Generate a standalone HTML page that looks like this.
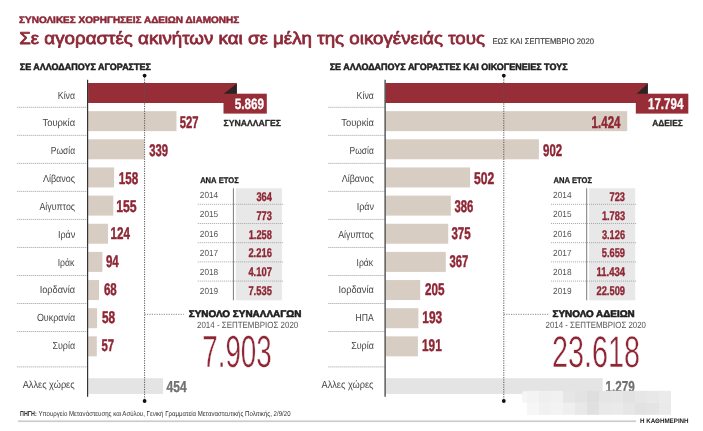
<!DOCTYPE html>
<html><head><meta charset="utf-8"><title>Άδειες διαμονής</title>
<style>html,body{margin:0;padding:0;background:#fff;width:703px;height:431px;overflow:hidden}
svg{display:block;filter:blur(0.5px)} text{font-family:"Liberation Sans",sans-serif;white-space:pre}</style></head>
<body>
<svg width="703" height="431" viewBox="0 0 703 431" font-family="'Liberation Sans', sans-serif" text-rendering="geometricPrecision">
<rect x="88.10" y="83.00" width="148.70" height="20.00" fill="#962d37"/>
<rect x="88.10" y="111.15" width="88.40" height="20.00" fill="#d8cdc3"/>
<rect x="88.10" y="139.30" width="56.30" height="20.00" fill="#d8cdc3"/>
<rect x="88.10" y="167.45" width="26.00" height="20.00" fill="#d8cdc3"/>
<rect x="88.10" y="195.60" width="25.20" height="20.00" fill="#d8cdc3"/>
<rect x="88.10" y="223.75" width="19.90" height="20.00" fill="#d8cdc3"/>
<rect x="88.10" y="251.90" width="14.30" height="20.00" fill="#d8cdc3"/>
<rect x="88.10" y="280.05" width="10.90" height="20.00" fill="#d8cdc3"/>
<rect x="88.10" y="308.20" width="9.00" height="20.00" fill="#d8cdc3"/>
<rect x="88.10" y="336.35" width="8.70" height="20.00" fill="#d8cdc3"/>
<rect x="88.30" y="378.20" width="74.70" height="15.70" fill="#e4e4e4"/>
<rect x="385.60" y="83.00" width="262.20" height="20.00" fill="#962d37"/>
<rect x="385.60" y="111.15" width="241.60" height="20.00" fill="#d8cdc3"/>
<rect x="385.60" y="139.30" width="153.30" height="20.00" fill="#d8cdc3"/>
<rect x="385.60" y="167.45" width="84.50" height="20.00" fill="#d8cdc3"/>
<rect x="385.60" y="195.60" width="65.20" height="20.00" fill="#d8cdc3"/>
<rect x="385.60" y="223.75" width="62.60" height="20.00" fill="#d8cdc3"/>
<rect x="385.60" y="251.90" width="60.20" height="20.00" fill="#d8cdc3"/>
<rect x="385.60" y="280.05" width="34.60" height="20.00" fill="#d8cdc3"/>
<rect x="385.60" y="308.20" width="32.80" height="20.00" fill="#d8cdc3"/>
<rect x="385.60" y="336.35" width="32.30" height="20.00" fill="#d8cdc3"/>
<rect x="385.80" y="378.20" width="216.80" height="15.70" fill="#e4e4e4"/>
<line x1="17.30" y1="107.30" x2="87.30" y2="107.30" stroke="#9a9a9a" stroke-width="1.0" stroke-dasharray="1.00 1.00"/>
<line x1="328.40" y1="107.30" x2="384.80" y2="107.30" stroke="#9a9a9a" stroke-width="1.0" stroke-dasharray="1.00 1.00"/>
<line x1="17.30" y1="135.33" x2="87.30" y2="135.33" stroke="#9a9a9a" stroke-width="1.0" stroke-dasharray="1.00 1.00"/>
<line x1="328.40" y1="135.33" x2="384.80" y2="135.33" stroke="#9a9a9a" stroke-width="1.0" stroke-dasharray="1.00 1.00"/>
<line x1="17.30" y1="163.36" x2="87.30" y2="163.36" stroke="#9a9a9a" stroke-width="1.0" stroke-dasharray="1.00 1.00"/>
<line x1="328.40" y1="163.36" x2="384.80" y2="163.36" stroke="#9a9a9a" stroke-width="1.0" stroke-dasharray="1.00 1.00"/>
<line x1="17.30" y1="191.39" x2="87.30" y2="191.39" stroke="#9a9a9a" stroke-width="1.0" stroke-dasharray="1.00 1.00"/>
<line x1="328.40" y1="191.39" x2="384.80" y2="191.39" stroke="#9a9a9a" stroke-width="1.0" stroke-dasharray="1.00 1.00"/>
<line x1="17.30" y1="219.42" x2="87.30" y2="219.42" stroke="#9a9a9a" stroke-width="1.0" stroke-dasharray="1.00 1.00"/>
<line x1="328.40" y1="219.42" x2="384.80" y2="219.42" stroke="#9a9a9a" stroke-width="1.0" stroke-dasharray="1.00 1.00"/>
<line x1="17.30" y1="247.45" x2="87.30" y2="247.45" stroke="#9a9a9a" stroke-width="1.0" stroke-dasharray="1.00 1.00"/>
<line x1="328.40" y1="247.45" x2="384.80" y2="247.45" stroke="#9a9a9a" stroke-width="1.0" stroke-dasharray="1.00 1.00"/>
<line x1="17.30" y1="275.48" x2="87.30" y2="275.48" stroke="#9a9a9a" stroke-width="1.0" stroke-dasharray="1.00 1.00"/>
<line x1="328.40" y1="275.48" x2="384.80" y2="275.48" stroke="#9a9a9a" stroke-width="1.0" stroke-dasharray="1.00 1.00"/>
<line x1="17.30" y1="303.51" x2="87.30" y2="303.51" stroke="#9a9a9a" stroke-width="1.0" stroke-dasharray="1.00 1.00"/>
<line x1="328.40" y1="303.51" x2="384.80" y2="303.51" stroke="#9a9a9a" stroke-width="1.0" stroke-dasharray="1.00 1.00"/>
<line x1="17.30" y1="331.54" x2="87.30" y2="331.54" stroke="#9a9a9a" stroke-width="1.0" stroke-dasharray="1.00 1.00"/>
<line x1="328.40" y1="331.54" x2="384.80" y2="331.54" stroke="#9a9a9a" stroke-width="1.0" stroke-dasharray="1.00 1.00"/>
<line x1="17.30" y1="366.90" x2="87.30" y2="366.90" stroke="#9a9a9a" stroke-width="1.0" stroke-dasharray="1.00 1.00"/>
<line x1="328.40" y1="366.90" x2="384.80" y2="366.90" stroke="#9a9a9a" stroke-width="1.0" stroke-dasharray="1.00 1.00"/>
<rect x="235.80" y="188.30" width="46.10" height="112.00" fill="#e8e8e8"/>
<line x1="233.40" y1="188.3" x2="233.40" y2="300.3" stroke="#7a7a7a" stroke-width="1"/>
<line x1="197.80" y1="204.30" x2="283.70" y2="204.30" stroke="#a6a6a6" stroke-width="1.0" stroke-dasharray="1.00 1.00"/>
<line x1="197.80" y1="223.50" x2="283.70" y2="223.50" stroke="#a6a6a6" stroke-width="1.0" stroke-dasharray="1.00 1.00"/>
<line x1="197.80" y1="242.70" x2="283.70" y2="242.70" stroke="#a6a6a6" stroke-width="1.0" stroke-dasharray="1.00 1.00"/>
<line x1="197.80" y1="261.90" x2="283.70" y2="261.90" stroke="#a6a6a6" stroke-width="1.0" stroke-dasharray="1.00 1.00"/>
<line x1="197.80" y1="281.10" x2="283.70" y2="281.10" stroke="#a6a6a6" stroke-width="1.0" stroke-dasharray="1.00 1.00"/>
<rect x="589.10" y="188.30" width="46.10" height="112.00" fill="#e8e8e8"/>
<line x1="586.70" y1="188.3" x2="586.70" y2="300.3" stroke="#7a7a7a" stroke-width="1"/>
<line x1="551.10" y1="204.30" x2="637.00" y2="204.30" stroke="#a6a6a6" stroke-width="1.0" stroke-dasharray="1.00 1.00"/>
<line x1="551.10" y1="223.50" x2="637.00" y2="223.50" stroke="#a6a6a6" stroke-width="1.0" stroke-dasharray="1.00 1.00"/>
<line x1="551.10" y1="242.70" x2="637.00" y2="242.70" stroke="#a6a6a6" stroke-width="1.0" stroke-dasharray="1.00 1.00"/>
<line x1="551.10" y1="261.90" x2="637.00" y2="261.90" stroke="#a6a6a6" stroke-width="1.0" stroke-dasharray="1.00 1.00"/>
<line x1="551.10" y1="281.10" x2="637.00" y2="281.10" stroke="#a6a6a6" stroke-width="1.0" stroke-dasharray="1.00 1.00"/>
<rect x="223.50" y="93.70" width="43.30" height="19.90" fill="#962d37"/>
<polygon points="223.80,93.7 236.80,83.4 236.80,93.7" fill="#2b2324"/>
<rect x="635.80" y="93.70" width="52.50" height="19.90" fill="#962d37"/>
<polygon points="636.70,93.7 647.80,83.4 647.80,93.7" fill="#2b2324"/>
<line x1="144.60" y1="77.00" x2="144.60" y2="400.00" stroke="#555555" stroke-width="1.0" stroke-dasharray="1.20 1.20"/>
<line x1="144.60" y1="314.30" x2="183.80" y2="314.30" stroke="#8a8a8a" stroke-width="1.0" stroke-dasharray="1.20 1.20"/>
<circle cx="144.60" cy="75.6" r="1.9" fill="#111"/>
<circle cx="144.60" cy="401.0" r="1.9" fill="#111"/>
<line x1="503.80" y1="77.00" x2="503.80" y2="400.00" stroke="#555555" stroke-width="1.0" stroke-dasharray="1.20 1.20"/>
<line x1="503.80" y1="314.30" x2="549.00" y2="314.30" stroke="#8a8a8a" stroke-width="1.0" stroke-dasharray="1.20 1.20"/>
<circle cx="503.80" cy="75.6" r="1.9" fill="#111"/>
<circle cx="503.80" cy="401.0" r="1.9" fill="#111"/>
<line x1="87.60" y1="79.8" x2="87.60" y2="396.8" stroke="#333333" stroke-width="1.2"/>
<line x1="385.10" y1="79.8" x2="385.10" y2="396.8" stroke="#333333" stroke-width="1.2"/>
<rect x="18" y="420.4" width="618" height="1.7" fill="#cccccc"/>
<text x="19.05" y="22.75" font-size="9.45" font-weight="700" fill="#8c2837" stroke="#8c2837" stroke-width="0.5" stroke-linejoin="round" textLength="220.14" lengthAdjust="spacingAndGlyphs">ΣΥΝΟΛΙΚΕΣ ΧΟΡΗΓΗΣΕΙΣ ΑΔΕΙΩΝ ΔΙΑΜΟΝΗΣ</text>
<text x="19.18" y="44.33" font-size="17.22" font-weight="400" fill="#8c2837" stroke="#8c2837" stroke-width="0.75" stroke-linejoin="round" textLength="465.87" lengthAdjust="spacingAndGlyphs">Σε αγοραστές ακινήτων και σε μέλη της οικογένειάς τους</text>
<text x="492.50" y="44.20" font-size="8.28" font-weight="400" fill="#444444" stroke="#444444" stroke-width="0.2" stroke-linejoin="round" textLength="101.43" lengthAdjust="spacingAndGlyphs">ΕΩΣ ΚΑΙ ΣΕΠΤΕΜΒΡΙΟ 2020</text>
<text x="19.85" y="70.15" font-size="9.30" font-weight="700" fill="#1e1e1e" stroke="#1e1e1e" stroke-width="0.5" stroke-linejoin="round" textLength="131.00" lengthAdjust="spacingAndGlyphs">ΣΕ ΑΛΛΟΔΑΠΟΥΣ ΑΓΟΡΑΣΤΕΣ</text>
<text x="329.65" y="70.05" font-size="9.30" font-weight="700" fill="#1e1e1e" stroke="#1e1e1e" stroke-width="0.5" stroke-linejoin="round" textLength="237.89" lengthAdjust="spacingAndGlyphs">ΣΕ ΑΛΛΟΔΑΠΟΥΣ ΑΓΟΡΑΣΤΕΣ ΚΑΙ ΟΙΚΟΓΕΝΕΙΕΣ ΤΟΥΣ</text>
<text x="57.80" y="98.60" font-size="10.32" font-weight="400" fill="#454545" textLength="17.26" lengthAdjust="spacingAndGlyphs">Κίνα</text>
<text x="42.50" y="126.42" font-size="10.32" font-weight="400" fill="#454545" textLength="32.56" lengthAdjust="spacingAndGlyphs">Τουρκία</text>
<text x="50.80" y="154.24" font-size="10.32" font-weight="400" fill="#454545" textLength="24.26" lengthAdjust="spacingAndGlyphs">Ρωσία</text>
<text x="42.90" y="182.06" font-size="10.32" font-weight="400" fill="#454545" textLength="32.17" lengthAdjust="spacingAndGlyphs">Λίβανος</text>
<text x="39.40" y="209.88" font-size="10.32" font-weight="400" fill="#454545" textLength="35.67" lengthAdjust="spacingAndGlyphs">Αίγυπτος</text>
<text x="57.90" y="237.70" font-size="10.32" font-weight="400" fill="#454545" textLength="17.33" lengthAdjust="spacingAndGlyphs">Ιράν</text>
<text x="57.70" y="265.52" font-size="10.32" font-weight="400" fill="#454545" textLength="16.68" lengthAdjust="spacingAndGlyphs">Ιράκ</text>
<text x="39.70" y="293.34" font-size="10.32" font-weight="400" fill="#454545" textLength="35.36" lengthAdjust="spacingAndGlyphs">Ιορδανία</text>
<text x="36.90" y="321.16" font-size="10.32" font-weight="400" fill="#454545" textLength="38.16" lengthAdjust="spacingAndGlyphs">Ουκρανία</text>
<text x="52.40" y="348.98" font-size="10.32" font-weight="400" fill="#454545" textLength="22.66" lengthAdjust="spacingAndGlyphs">Συρία</text>
<text x="356.60" y="98.60" font-size="10.32" font-weight="400" fill="#454545" textLength="17.26" lengthAdjust="spacingAndGlyphs">Κίνα</text>
<text x="341.30" y="126.42" font-size="10.32" font-weight="400" fill="#454545" textLength="32.56" lengthAdjust="spacingAndGlyphs">Τουρκία</text>
<text x="349.60" y="154.24" font-size="10.32" font-weight="400" fill="#454545" textLength="24.26" lengthAdjust="spacingAndGlyphs">Ρωσία</text>
<text x="341.70" y="182.06" font-size="10.32" font-weight="400" fill="#454545" textLength="32.17" lengthAdjust="spacingAndGlyphs">Λίβανος</text>
<text x="356.70" y="209.88" font-size="10.32" font-weight="400" fill="#454545" textLength="17.33" lengthAdjust="spacingAndGlyphs">Ιράν</text>
<text x="338.20" y="237.70" font-size="10.32" font-weight="400" fill="#454545" textLength="35.67" lengthAdjust="spacingAndGlyphs">Αίγυπτος</text>
<text x="356.50" y="265.52" font-size="10.32" font-weight="400" fill="#454545" textLength="16.68" lengthAdjust="spacingAndGlyphs">Ιράκ</text>
<text x="338.50" y="293.34" font-size="10.32" font-weight="400" fill="#454545" textLength="35.36" lengthAdjust="spacingAndGlyphs">Ιορδανία</text>
<text x="355.60" y="321.16" font-size="10.32" font-weight="400" fill="#454545" textLength="18.19" lengthAdjust="spacingAndGlyphs">ΗΠΑ</text>
<text x="351.20" y="348.98" font-size="10.32" font-weight="400" fill="#454545" textLength="22.66" lengthAdjust="spacingAndGlyphs">Συρία</text>
<text x="22.70" y="388.40" font-size="10.32" font-weight="400" fill="#454545" textLength="51.97" lengthAdjust="spacingAndGlyphs">Αλλες χώρες</text>
<text x="321.50" y="388.40" font-size="10.32" font-weight="400" fill="#454545" textLength="51.97" lengthAdjust="spacingAndGlyphs">Αλλες χώρες</text>
<text x="179.72" y="128.22" font-size="16.93" font-weight="700" fill="#8e2634" stroke="#8e2634" stroke-width="0.45" stroke-linejoin="round" textLength="18.72" lengthAdjust="spacingAndGlyphs">527</text>
<text x="149.22" y="156.00" font-size="16.93" font-weight="700" fill="#8e2634" stroke="#8e2634" stroke-width="0.45" stroke-linejoin="round" textLength="18.82" lengthAdjust="spacingAndGlyphs">339</text>
<text x="118.84" y="183.80" font-size="16.93" font-weight="700" fill="#8e2634" stroke="#8e2634" stroke-width="0.45" stroke-linejoin="round" textLength="19.42" lengthAdjust="spacingAndGlyphs">158</text>
<text x="116.20" y="211.59" font-size="16.93" font-weight="700" fill="#8e2634" stroke="#8e2634" stroke-width="0.45" stroke-linejoin="round" textLength="20.47" lengthAdjust="spacingAndGlyphs">155</text>
<text x="110.54" y="239.38" font-size="16.93" font-weight="700" fill="#8e2634" stroke="#8e2634" stroke-width="0.45" stroke-linejoin="round" textLength="19.43" lengthAdjust="spacingAndGlyphs">124</text>
<text x="105.92" y="267.16" font-size="16.93" font-weight="700" fill="#8e2634" stroke="#8e2634" stroke-width="0.45" stroke-linejoin="round" textLength="12.84" lengthAdjust="spacingAndGlyphs">94</text>
<text x="103.92" y="294.95" font-size="16.93" font-weight="700" fill="#8e2634" stroke="#8e2634" stroke-width="0.45" stroke-linejoin="round" textLength="12.82" lengthAdjust="spacingAndGlyphs">68</text>
<text x="101.92" y="322.74" font-size="16.93" font-weight="700" fill="#8e2634" stroke="#8e2634" stroke-width="0.45" stroke-linejoin="round" textLength="13.23" lengthAdjust="spacingAndGlyphs">58</text>
<text x="101.52" y="350.53" font-size="16.93" font-weight="700" fill="#8e2634" stroke="#8e2634" stroke-width="0.45" stroke-linejoin="round" textLength="12.62" lengthAdjust="spacingAndGlyphs">57</text>
<text x="591.54" y="128.22" font-size="16.93" font-weight="700" fill="#8e2634" stroke="#8e2634" stroke-width="0.45" stroke-linejoin="round" textLength="29.03" lengthAdjust="spacingAndGlyphs">1.424</text>
<text x="543.12" y="156.00" font-size="16.93" font-weight="700" fill="#8e2634" stroke="#8e2634" stroke-width="0.45" stroke-linejoin="round" textLength="19.12" lengthAdjust="spacingAndGlyphs">902</text>
<text x="473.93" y="183.80" font-size="16.93" font-weight="700" fill="#8e2634" stroke="#8e2634" stroke-width="0.45" stroke-linejoin="round" textLength="20.24" lengthAdjust="spacingAndGlyphs">502</text>
<text x="454.43" y="211.59" font-size="16.93" font-weight="700" fill="#8e2634" stroke="#8e2634" stroke-width="0.45" stroke-linejoin="round" textLength="18.92" lengthAdjust="spacingAndGlyphs">386</text>
<text x="451.43" y="239.38" font-size="16.93" font-weight="700" fill="#8e2634" stroke="#8e2634" stroke-width="0.45" stroke-linejoin="round" textLength="19.33" lengthAdjust="spacingAndGlyphs">375</text>
<text x="449.43" y="267.16" font-size="16.93" font-weight="700" fill="#8e2634" stroke="#8e2634" stroke-width="0.45" stroke-linejoin="round" textLength="18.82" lengthAdjust="spacingAndGlyphs">367</text>
<text x="425.03" y="294.95" font-size="16.93" font-weight="700" fill="#8e2634" stroke="#8e2634" stroke-width="0.45" stroke-linejoin="round" textLength="19.53" lengthAdjust="spacingAndGlyphs">205</text>
<text x="422.32" y="322.74" font-size="16.93" font-weight="700" fill="#8e2634" stroke="#8e2634" stroke-width="0.45" stroke-linejoin="round" textLength="19.94" lengthAdjust="spacingAndGlyphs">193</text>
<text x="422.03" y="350.53" font-size="16.93" font-weight="700" fill="#8e2634" stroke="#8e2634" stroke-width="0.45" stroke-linejoin="round" textLength="19.73" lengthAdjust="spacingAndGlyphs">191</text>
<text x="166.55" y="391.85" font-size="15.86" font-weight="700" fill="#707070" stroke="#707070" stroke-width="0.3" stroke-linejoin="round" textLength="20.16" lengthAdjust="spacingAndGlyphs">454</text>
<text x="605.41" y="391.85" font-size="15.86" font-weight="700" fill="#707070" stroke="#707070" stroke-width="0.3" stroke-linejoin="round" textLength="29.30" lengthAdjust="spacingAndGlyphs">1.279</text>
<text x="234.65" y="109.15" font-size="15.00" font-weight="700" fill="#ffffff" stroke="#ffffff" stroke-width="0.3" stroke-linejoin="round" textLength="29.47" lengthAdjust="spacingAndGlyphs">5.869</text>
<text x="647.95" y="109.45" font-size="15.57" font-weight="700" fill="#ffffff" stroke="#ffffff" stroke-width="0.3" stroke-linejoin="round" textLength="35.44" lengthAdjust="spacingAndGlyphs">17.794</text>
<text x="223.45" y="125.85" font-size="8.72" font-weight="700" fill="#2a2a2a" stroke="#2a2a2a" stroke-width="0.3" stroke-linejoin="round" textLength="57.53" lengthAdjust="spacingAndGlyphs">ΣΥΝΑΛΛΑΓΕΣ</text>
<text x="652.15" y="125.85" font-size="8.72" font-weight="700" fill="#2a2a2a" stroke="#2a2a2a" stroke-width="0.3" stroke-linejoin="round" textLength="30.72" lengthAdjust="spacingAndGlyphs">ΑΔΕΙΕΣ</text>
<text x="200.15" y="182.85" font-size="8.28" font-weight="700" fill="#1e1e1e" stroke="#1e1e1e" stroke-width="0.3" stroke-linejoin="round" textLength="38.56" lengthAdjust="spacingAndGlyphs">ΑΝΑ ΕΤΟΣ</text>
<text x="199.80" y="198.10" font-size="8.86" font-weight="400" fill="#555555" textLength="18.42" lengthAdjust="spacingAndGlyphs">2014</text>
<text x="256.38" y="201.32" font-size="12.64" font-weight="700" fill="#8e2634" stroke="#8e2634" stroke-width="0.35" stroke-linejoin="round" textLength="15.47" lengthAdjust="spacingAndGlyphs">364</text>
<text x="199.80" y="217.30" font-size="8.86" font-weight="400" fill="#555555" textLength="18.42" lengthAdjust="spacingAndGlyphs">2015</text>
<text x="256.38" y="220.00" font-size="12.64" font-weight="700" fill="#8e2634" stroke="#8e2634" stroke-width="0.35" stroke-linejoin="round" textLength="15.47" lengthAdjust="spacingAndGlyphs">773</text>
<text x="199.80" y="236.50" font-size="8.86" font-weight="400" fill="#555555" textLength="18.42" lengthAdjust="spacingAndGlyphs">2016</text>
<text x="248.68" y="238.69" font-size="12.64" font-weight="700" fill="#8e2634" stroke="#8e2634" stroke-width="0.35" stroke-linejoin="round" textLength="23.17" lengthAdjust="spacingAndGlyphs">1.258</text>
<text x="199.80" y="255.70" font-size="8.86" font-weight="400" fill="#555555" textLength="18.42" lengthAdjust="spacingAndGlyphs">2017</text>
<text x="248.38" y="257.37" font-size="12.64" font-weight="700" fill="#8e2634" stroke="#8e2634" stroke-width="0.35" stroke-linejoin="round" textLength="23.47" lengthAdjust="spacingAndGlyphs">2.216</text>
<text x="199.80" y="274.90" font-size="8.86" font-weight="400" fill="#555555" textLength="18.42" lengthAdjust="spacingAndGlyphs">2018</text>
<text x="248.38" y="276.05" font-size="12.64" font-weight="700" fill="#8e2634" stroke="#8e2634" stroke-width="0.35" stroke-linejoin="round" textLength="23.47" lengthAdjust="spacingAndGlyphs">4.107</text>
<text x="199.80" y="294.10" font-size="8.86" font-weight="400" fill="#555555" textLength="18.42" lengthAdjust="spacingAndGlyphs">2019</text>
<text x="248.38" y="294.72" font-size="12.64" font-weight="700" fill="#8e2634" stroke="#8e2634" stroke-width="0.35" stroke-linejoin="round" textLength="23.47" lengthAdjust="spacingAndGlyphs">7.535</text>
<text x="553.45" y="182.85" font-size="8.28" font-weight="700" fill="#1e1e1e" stroke="#1e1e1e" stroke-width="0.3" stroke-linejoin="round" textLength="38.56" lengthAdjust="spacingAndGlyphs">ΑΝΑ ΕΤΟΣ</text>
<text x="553.10" y="198.10" font-size="8.86" font-weight="400" fill="#555555" textLength="18.42" lengthAdjust="spacingAndGlyphs">2014</text>
<text x="609.57" y="201.32" font-size="12.64" font-weight="700" fill="#8e2634" stroke="#8e2634" stroke-width="0.35" stroke-linejoin="round" textLength="15.47" lengthAdjust="spacingAndGlyphs">723</text>
<text x="553.10" y="217.30" font-size="8.86" font-weight="400" fill="#555555" textLength="18.42" lengthAdjust="spacingAndGlyphs">2015</text>
<text x="601.88" y="220.00" font-size="12.64" font-weight="700" fill="#8e2634" stroke="#8e2634" stroke-width="0.35" stroke-linejoin="round" textLength="23.17" lengthAdjust="spacingAndGlyphs">1.783</text>
<text x="553.10" y="236.50" font-size="8.86" font-weight="400" fill="#555555" textLength="18.42" lengthAdjust="spacingAndGlyphs">2016</text>
<text x="601.88" y="238.69" font-size="12.64" font-weight="700" fill="#8e2634" stroke="#8e2634" stroke-width="0.35" stroke-linejoin="round" textLength="23.17" lengthAdjust="spacingAndGlyphs">3.126</text>
<text x="553.10" y="255.70" font-size="8.86" font-weight="400" fill="#555555" textLength="18.42" lengthAdjust="spacingAndGlyphs">2017</text>
<text x="601.77" y="257.37" font-size="12.64" font-weight="700" fill="#8e2634" stroke="#8e2634" stroke-width="0.35" stroke-linejoin="round" textLength="23.27" lengthAdjust="spacingAndGlyphs">5.659</text>
<text x="553.10" y="274.90" font-size="8.86" font-weight="400" fill="#555555" textLength="18.42" lengthAdjust="spacingAndGlyphs">2018</text>
<text x="596.47" y="276.05" font-size="12.64" font-weight="700" fill="#8e2634" stroke="#8e2634" stroke-width="0.35" stroke-linejoin="round" textLength="28.57" lengthAdjust="spacingAndGlyphs">11.434</text>
<text x="553.10" y="294.10" font-size="8.86" font-weight="400" fill="#555555" textLength="18.42" lengthAdjust="spacingAndGlyphs">2019</text>
<text x="596.47" y="294.72" font-size="12.64" font-weight="700" fill="#8e2634" stroke="#8e2634" stroke-width="0.35" stroke-linejoin="round" textLength="28.57" lengthAdjust="spacingAndGlyphs">22.509</text>
<text x="188.70" y="316.60" font-size="9.59" font-weight="700" fill="#1e1e1e" stroke="#1e1e1e" stroke-width="0.6" stroke-linejoin="round" textLength="112.71" lengthAdjust="spacingAndGlyphs">ΣΥΝΟΛΟ ΣΥΝΑΛΛΑΓΩΝ</text>
<text x="197.00" y="328.00" font-size="9.01" font-weight="400" fill="#555555" textLength="101.30" lengthAdjust="spacingAndGlyphs">2014 - ΣΕΠΤΕΜΒΡΙΟΣ 2020</text>
<text x="202.21" y="367.15" font-size="45.00" font-weight="400" fill="#8e2634" stroke="#ffffff" stroke-width="0.5" stroke-linejoin="round" textLength="69.57" lengthAdjust="spacingAndGlyphs">7.903</text>
<text x="552.60" y="316.60" font-size="9.59" font-weight="700" fill="#1e1e1e" stroke="#1e1e1e" stroke-width="0.6" stroke-linejoin="round" textLength="82.11" lengthAdjust="spacingAndGlyphs">ΣΥΝΟΛΟ ΑΔΕΙΩΝ</text>
<text x="545.60" y="328.00" font-size="9.01" font-weight="400" fill="#555555" textLength="100.40" lengthAdjust="spacingAndGlyphs">2014 - ΣΕΠΤΕΜΒΡΙΟΣ 2020</text>
<text x="551.95" y="367.05" font-size="44.29" font-weight="400" fill="#8e2634" stroke="#ffffff" stroke-width="0.5" stroke-linejoin="round" textLength="88.05" lengthAdjust="spacingAndGlyphs">23.618</text>
<text x="20.00" y="416.30" font-size="7.12" font-weight="700" fill="#333333" textLength="16.68" lengthAdjust="spacingAndGlyphs">ΠΗΓΗ:</text>
<text x="38.40" y="416.30" font-size="7.12" font-weight="400" fill="#333333" textLength="252.16" lengthAdjust="spacingAndGlyphs">Υπουργείο Μετανάστευσης και Ασύλου, Γενική Γραμματεία Μεταναστευτικής Πολιτικής, 2/9/20</text>
<text x="640.00" y="423.30" font-size="6.40" font-weight="700" fill="#222222" textLength="48.61" lengthAdjust="spacingAndGlyphs">Η ΚΑΘΗΜΕΡΙΝΗ</text>
<rect x="522" y="391" width="6" height="12" rx="4" fill="#f6f6f6"/>
<rect x="527" y="390.8" width="12" height="12.1" fill="#f3f3f3"/>
<rect x="527" y="402.8" width="12" height="12.0" fill="#f6f6f6"/>
<rect x="539" y="390.8" width="12" height="12.1" fill="#efefef"/>
<rect x="539" y="402.8" width="12" height="12.0" fill="#f1f1f1"/>
<rect x="551" y="390.8" width="12" height="12.1" fill="#f1f1f1"/>
<rect x="551" y="402.8" width="12" height="12.0" fill="#f3f3f3"/>
<rect x="563" y="390.8" width="12" height="12.1" fill="#e6e6e6"/>
<rect x="563" y="402.8" width="12" height="12.0" fill="#efefef"/>
<rect x="575" y="390.8" width="12" height="12.1" fill="#e3e3e3"/>
<rect x="575" y="402.8" width="12" height="12.0" fill="#e8e8e8"/>
<rect x="587" y="390.8" width="12" height="12.1" fill="#dedede"/>
<rect x="587" y="402.8" width="12" height="12.0" fill="#e0e0e0"/>
<rect x="599" y="390.8" width="12" height="12.1" fill="#e5e5e5"/>
<rect x="599" y="402.8" width="12" height="12.0" fill="#e9e9e9"/>
<rect x="611" y="390.8" width="12" height="12.1" fill="#e6e6e6"/>
<rect x="611" y="402.8" width="12" height="12.0" fill="#eaeaea"/>
<rect x="623" y="390.8" width="12" height="12.1" fill="#e2e2e2"/>
<rect x="623" y="402.8" width="12" height="12.0" fill="#e6e6e6"/>
<rect x="635" y="390.8" width="12" height="12.1" fill="#e6e6e6"/>
<rect x="635" y="402.8" width="12" height="12.0" fill="#e2e2e2"/>
<rect x="647" y="390.8" width="12" height="12.1" fill="#e8e8e8"/>
<rect x="647" y="402.8" width="12" height="12.0" fill="#e4e4e4"/>
<rect x="659" y="390.8" width="12" height="12.1" fill="#ebebeb"/>
<rect x="659" y="402.8" width="12" height="12.0" fill="#eaeaea"/>
</svg>
</body></html>
